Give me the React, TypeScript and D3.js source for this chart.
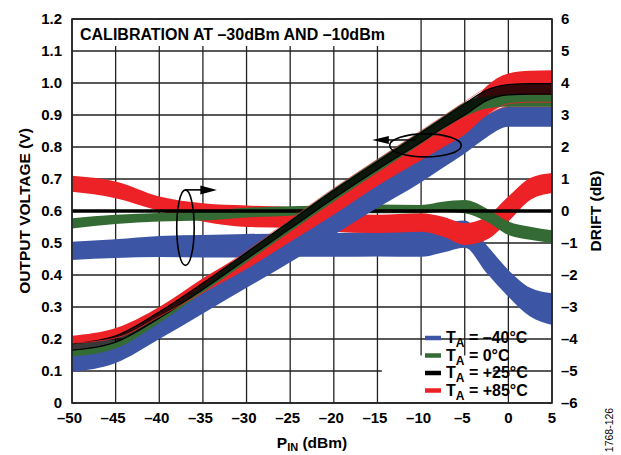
import * as d3 from "d3";

// input power points (dBm)
const P_IN = [-50, -45, -40, -35, -30, -25, -20, -15, -10, -7.5, -5, -2.5, 0, 2.5, 5];

// output voltage bands (V), low / high edge per temperature
const vBlueLo = [0.097, 0.125, 0.2, 0.28, 0.36, 0.44, 0.525, 0.61, 0.69, 0.735, 0.78, 0.83, 0.863, 0.863, 0.863];
const vBlueHi = [0.156, 0.187, 0.26, 0.345, 0.43, 0.515, 0.6, 0.69, 0.77, 0.815, 0.86, 0.9, 0.926, 0.926, 0.926];
const vGreenLo = [0.145, 0.17, 0.25, 0.345, 0.44, 0.535, 0.63, 0.72, 0.81, 0.855, 0.895, 0.92, 0.926, 0.926, 0.926];
const vGreenHi = [0.166, 0.193, 0.272, 0.365, 0.472, 0.572, 0.67, 0.762, 0.85, 0.895, 0.94, 0.958, 0.963, 0.963, 0.963];
const vBlackLo = [0.165, 0.19, 0.265, 0.355, 0.45, 0.545, 0.64, 0.73, 0.815, 0.86, 0.9, 0.945, 0.963, 0.965, 0.965];
const vBlackHi = [0.185, 0.21, 0.285, 0.375, 0.47, 0.568, 0.665, 0.755, 0.845, 0.89, 0.935, 0.978, 0.995, 0.998, 0.998];
const vRedLo = [0.187, 0.203, 0.27, 0.345, 0.42, 0.505, 0.59, 0.68, 0.76, 0.8, 0.84, 0.9, 0.935, 0.94, 0.94];
const vRedHi = [0.21, 0.234, 0.3, 0.39, 0.47, 0.55, 0.64, 0.73, 0.815, 0.86, 0.905, 0.99, 1.03, 1.038, 1.04];

// drift bands (dB)
const dBlueLo = [-1.53, -1.47, -1.44, -1.45, -1.45, -1.43, -1.43, -1.42, -1.43, -1.3, -1.15, -1.94, -2.68, -3.3, -3.56];
const dBlueHi = [-0.96, -0.88, -0.78, -0.75, -0.72, -0.7, -0.69, -0.65, -0.55, -0.4, -0.3, -1.06, -1.84, -2.4, -2.57];
const dRedLo = [0.6, 0.4, 0.0, -0.33, -0.5, -0.52, -0.65, -0.69, -0.65, -0.8, -1.06, -0.9, -0.33, 0.34, 0.56];
const dRedHi = [1.1, 0.92, 0.45, 0.24, 0.17, 0.12, -0.07, -0.12, -0.07, -0.18, -0.38, -0.18, 0.45, 1.03, 1.19];
const dGreenLo = [-0.55, -0.41, -0.33, -0.3, -0.2, -0.15, -0.08, -0.07, -0.07, -0.02, -0.07, -0.33, -0.75, -0.9, -1.0];
const dGreenHi = [-0.23, -0.12, -0.06, -0.02, 0.1, 0.15, 0.18, 0.2, 0.19, 0.29, 0.34, 0.08, -0.33, -0.49, -0.6];
const dBlack = [0, 0, 0, 0, 0, 0, 0, 0, 0, 0, 0, 0, 0, 0, 0];

const xTicks = [-50, -45, -40, -35, -30, -25, -20, -15, -10, -5, 0, 5];
const vTicks = [0, 0.1, 0.2, 0.3, 0.4, 0.5, 0.6, 0.7, 0.8, 0.9, 1.0, 1.1, 1.2];
const dTicks = [-6, -5, -4, -3, -2, -1, 0, 1, 2, 3, 4, 5, 6];
const legendLabels = ["–40°C", "0°C", "+25°C", "+85°C"];

const BLUE = "#3d55a5";
const GREEN = "#346b34";
const BLACK = "#000000";
const RED = "#ec2227";
const legendColors = [BLUE, GREEN, BLACK, RED];

const FONT = "'Liberation Sans', Arial, Helvetica, sans-serif";

const x = d3.scaleLinear().domain([-50, 5]).range([72, 552]);
const yV = d3.scaleLinear().domain([0, 1.2]).range([403, 19]);
const yD = d3.scaleLinear().domain([-6, 6]).range([403, 19]);

const minus = (n: number) => (n < 0 ? "–" + Math.abs(n) : String(n));

function band(lo: number[], hi: number[], y: d3.ScaleLinear<number, number>) {
  const pts = P_IN.map((p, i) => ({ p, lo: lo[i], hi: hi[i] }));
  return (
    d3
      .area<{ p: number; lo: number; hi: number }>()
      .x((d) => x(d.p))
      .y0((d) => y(d.lo))
      .y1((d) => y(d.hi))
      .curve(d3.curveMonotoneX)(pts) ?? ""
  );
}

function line(vals: number[], y: d3.ScaleLinear<number, number>) {
  return (
    d3
      .line<number>()
      .x((_, i) => x(P_IN[i]))
      .y((d) => y(d))
      .curve(d3.curveMonotoneX)(vals) ?? ""
  );
}

export default function App() {
  const [x0, x1] = x.range();
  const [yb, yt] = yV.range();
  const lblStyle = { fontFamily: FONT, fontWeight: 700, fontSize: 15 } as const;

  // annotation ellipses (data coords)
  const e1 = { cx: x(-37), cy: yV(0.548), rx: x(-36) - x(-37), ry: yV(0.43) - yV(0.548) };
  const e2 = { cx: x(-9.5), cy: yV(0.805), rx: x(-5.4) - x(-9.5), ry: yV(0.769) - yV(0.805) };
  const a1y = e1.cy - e1.ry;
  const a2y = yV(0.822);

  return (
    <svg width={621} height={455} style={{ position: "absolute", left: 0, top: 0, background: "#fff" }}>
      {/* grid */}
      {xTicks.map((t) => (
        <line key={"gx" + t} x1={x(t)} x2={x(t)} y1={yt} y2={yb} stroke="#222" strokeWidth={1.3} />
      ))}
      {vTicks.map((t) => (
        <line key={"gy" + t} x1={x0} x2={x1} y1={yV(t)} y2={yV(t)} stroke="#222" strokeWidth={1.3} />
      ))}
      {/* title box */}
      <rect x={x0 + 1} y={yt + 1} width={318} height={26} fill="#fff" />
      <text x={80} y={40} style={{ ...lblStyle, fontSize: 16 }}>
        CALIBRATION AT –30dBm AND –10dBm
      </text>

      {/* drift bands */}
      <path d={band(dBlueLo, dBlueHi, yD)} fill={BLUE} />
      <path d={band(dRedLo, dRedHi, yD)} fill={RED} />
      <path d={band(dGreenLo, dGreenHi, yD)} fill={GREEN} />
      <path d={line(dBlack, yD)} fill="none" stroke={BLACK} strokeWidth={3.6} />

      {/* output voltage bands */}
      <path d={band(vBlueLo, vBlueHi, yV)} fill={BLUE} />
      <path d={line(vBlueHi, yV)} fill="none" stroke={RED} strokeWidth={0.6} />
      <path d={band(vRedLo, vRedHi, yV)} fill={RED} />
      <path d={band(vGreenLo, vGreenHi, yV)} fill={GREEN} />
      <path d={band(vBlackLo, vBlackHi, yV)} fill={BLACK} fillOpacity={0.78} />
      <path d={line(vBlackLo, yV)} fill="none" stroke={BLACK} strokeWidth={1.2} />
      <path d={line(vBlackHi, yV)} fill="none" stroke={BLACK} strokeWidth={1.2} />
      <path d={line(vRedLo, yV)} fill="none" stroke={RED} strokeWidth={0.8} />
      <path d={line(vBlackHi, yV)} fill="none" stroke={RED} strokeWidth={0.7} transform="translate(0,-2)" opacity={0.8} />

      {/* annotations */}
      <ellipse cx={e1.cx} cy={e1.cy} rx={e1.rx} ry={e1.ry} fill="none" stroke="#000" strokeWidth={1.6} />
      <line x1={e1.cx} x2={x(-34.6)} y1={a1y} y2={a1y} stroke="#000" strokeWidth={1.6} />
      <path
        d={`M${x(-33.4)},${a1y} L${x(-35.3)},${a1y - 4.5} L${x(-35.3)},${a1y + 4.5} Z`}
        fill="#000"
      />
      <ellipse cx={e2.cx} cy={e2.cy} rx={e2.rx} ry={e2.ry} fill="none" stroke="#000" strokeWidth={1.6} />
      <line x1={x(-10.6)} x2={x(-14.6)} y1={a2y} y2={a2y} stroke="#000" strokeWidth={1.6} />
      <path
        d={`M${x(-15.6)},${a2y} L${x(-13.7)},${a2y - 4} L${x(-13.7)},${a2y + 4} Z`}
        fill="#000"
      />

      {/* legend */}
      <rect x={x(-14.5)} y={yD(-4.5) + 0.5} width={111} height={yD(-6) - yD(-4.5) - 1.5} fill="#fff" />
      {legendLabels.map((lab, i) => {
        const cy = 338 + i * 17.5;
        return (
          <g key={lab}>
            <line x1={425} x2={441} y1={cy} y2={cy} stroke={legendColors[i]} strokeWidth={4.5} />
            <text x={446} y={cy + 5} style={{ ...lblStyle, fontSize: 16 }}>
              <tspan>T</tspan>
              <tspan fontSize={12} dy={4}>A</tspan>
              <tspan dy={-4}>{" = " + lab}</tspan>
            </text>
          </g>
        );
      })}

      {/* frame */}
      <rect x={x0} y={yt} width={x1 - x0} height={yb - yt} fill="none" stroke="#222" strokeWidth={1.6} />

      {/* ticks */}
      {vTicks.map((t) => (
        <text key={"tl" + t} x={62} y={yV(t) + 5} textAnchor="end" style={lblStyle}>
          {t === 0 ? "0" : t.toFixed(1)}
        </text>
      ))}
      {dTicks.map((t) => (
        <text key={"tr" + t} x={561} y={yD(t) + 5} style={lblStyle}>
          {minus(t)}
        </text>
      ))}
      {xTicks.map((t) => (
        <text key={"tx" + t} x={x(t) - (t < 0 ? 2.5 : 0)} y={423} textAnchor="middle" style={lblStyle}>
          {minus(t)}
        </text>
      ))}

      {/* axis titles */}
      <text transform={`translate(30,${(yt + yb) / 2}) rotate(-90)`} textAnchor="middle" style={{ ...lblStyle, fontSize: 15.5 }}>
        OUTPUT VOLTAGE (V)
      </text>
      <text transform={`translate(601,${(yt + yb) / 2}) rotate(-90)`} textAnchor="middle" style={{ ...lblStyle, fontSize: 15.5 }}>
        DRIFT (dB)
      </text>
      <text x={(x0 + x1) / 2} y={448} textAnchor="middle" style={{ ...lblStyle, fontSize: 15.5 }}>
        <tspan>P</tspan>
        <tspan fontSize={11} dy={3}>IN</tspan>
        <tspan dy={-3}> (dBm)</tspan>
      </text>
      <text transform="translate(613,430) rotate(-90)" textAnchor="middle" style={{ fontFamily: FONT, fontSize: 10.5 }}>
        1768-126
      </text>
    </svg>
  );
}
